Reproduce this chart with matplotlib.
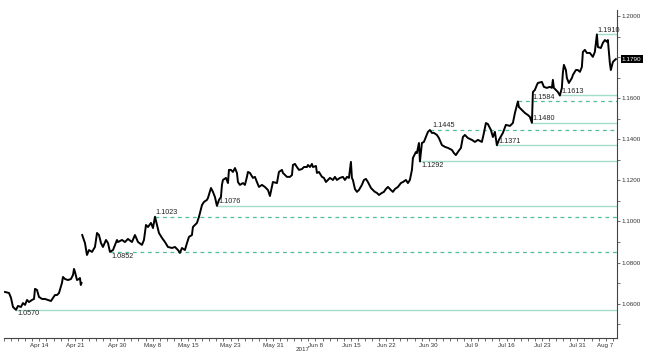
import numpy as np
import matplotlib
matplotlib.use("Agg")
import matplotlib.pyplot as plt
from matplotlib.ticker import MultipleLocator, FixedLocator, FixedFormatter
import matplotlib.transforms as mtransforms

plt.rcParams["font.family"] = ["Liberation Sans", "DejaVu Sans"]

# trading-day axis: day 0 = Fri 2017-04-07, weekends removed
ORIGIN = "2017-04-07"

# EUR/USD, before the French election weekend gap
days_a = [0.14, 0.71, 0.99, 1.27, 1.69, 1.98, 2.40, 2.68, 2.97, 3.25, 3.53, 3.95,
          4.24, 4.38, 4.66, 4.94, 5.37, 5.79, 6.21, 6.64, 6.92, 7.20, 7.49, 7.77,
          8.19, 8.33, 8.62, 9.04, 9.46, 9.75, 9.89, 10.03, 10.31, 10.59, 10.73,
          10.85, 10.95]
price_a = [1.0657, 1.0652, 1.0628, 1.0584, 1.0570, 1.0589, 1.0584, 1.0603, 1.0594,
           1.0618, 1.0608, 1.0618, 1.0623, 1.0672, 1.0667, 1.0633, 1.0623, 1.0623,
           1.0618, 1.0613, 1.0628, 1.0642, 1.0642, 1.0652, 1.0701, 1.0730, 1.0720,
           1.0715, 1.0720, 1.0740, 1.0769, 1.0754, 1.0715, 1.0720, 1.0725, 1.0691,
           1.0701]

# after the gap
days_b = [11.05, 11.44, 11.72, 12.01, 12.43, 12.85, 13.14, 13.42, 13.70, 13.98,
          14.41, 14.69, 14.97, 15.40, 15.68, 15.96, 16.10, 16.67, 17.09, 17.51,
          18.08, 18.50, 18.93, 19.49, 19.77, 20.06, 20.34, 20.76, 21.05, 21.33,
          21.61, 21.89, 22.32, 22.74, 23.16, 23.73, 24.15, 24.58, 24.86, 25.14,
          25.56, 25.85, 26.13, 26.55, 26.69, 27.26, 27.54, 27.97, 28.25, 28.67,
          28.81, 29.24, 29.52, 29.80, 30.08, 30.37, 30.65, 30.79, 30.93, 31.36,
          31.64, 31.78, 32.06, 32.34, 32.63, 32.91, 33.05, 33.33, 33.76, 34.04,
          34.32, 34.46, 34.75, 35.17, 35.45, 35.73, 36.02, 36.44, 36.86, 37.29,
          37.57, 37.85, 37.99, 38.56, 38.84, 39.27, 39.41, 39.97, 40.40, 40.68,
          40.82, 41.10, 41.38, 41.67, 42.09, 42.37, 42.80, 42.94, 43.22, 43.50,
          43.64, 44.07, 44.21, 44.49, 44.92, 45.20, 45.48, 45.76, 46.05, 46.47,
          46.75, 47.03, 47.46, 47.88, 48.16, 48.45, 48.73, 49.01, 49.15, 49.29,
          49.58, 49.86, 50.14, 50.56, 50.85, 51.13, 51.41, 51.84, 52.12, 52.40,
          52.68, 52.97, 53.39, 53.67, 53.95, 54.24, 54.66, 54.94, 55.23, 55.65,
          56.07, 56.36, 56.78, 57.06, 57.34, 57.63, 57.77, 58.19, 58.33, 58.62,
          58.76, 59.04, 59.32, 59.60, 59.89, 60.17, 60.45, 60.73, 61.16, 61.44,
          61.86, 62.29, 62.71, 63.28, 63.56, 63.84, 64.12, 64.55, 64.83, 65.11,
          65.54, 66.10, 66.53, 66.95, 67.51, 67.80, 68.08, 68.36, 68.79, 69.07,
          69.35, 69.63, 69.92, 70.48, 70.90, 71.47, 71.89, 72.18, 72.60, 72.74,
          73.16, 73.59, 74.01, 74.29, 74.58, 74.72, 75.00, 75.28, 75.42, 75.99,
          76.27, 76.69, 77.12, 77.40, 77.54, 77.68, 77.97, 78.25, 78.53, 78.81,
          78.95, 79.10, 79.38, 79.52, 79.80, 80.23, 80.37, 80.79, 81.07, 81.36,
          81.64, 81.78, 82.06, 82.34, 82.77, 83.19, 83.47, 83.76, 83.90, 84.32,
          84.60, 84.89, 85.17, 85.31, 85.59, 85.73, 86.02, 86.30, 86.44]
price_b = [1.0934, 1.0895, 1.0837, 1.0861, 1.0852, 1.0876, 1.0944, 1.0934, 1.0895, 1.0876,
           1.0910, 1.0895, 1.0852, 1.0861, 1.0886, 1.0910, 1.0900, 1.0910, 1.0900, 1.0915,
           1.0900, 1.0934, 1.0900, 1.0886, 1.0910, 1.0983, 1.0973, 1.0993, 1.0968, 1.1023,
           1.0983, 1.0944, 1.0920, 1.0900, 1.0876, 1.0871, 1.0876, 1.0861, 1.0847, 1.0871,
           1.0861, 1.0895, 1.0925, 1.0934, 1.0973, 1.0993, 1.1022, 1.1080, 1.1095, 1.1105,
           1.1114, 1.1163, 1.1144, 1.1119, 1.1076, 1.1105, 1.1119, 1.1178, 1.1202, 1.1212,
           1.1187, 1.1251, 1.1251, 1.1241, 1.1260, 1.1236, 1.1192, 1.1178, 1.1187, 1.1178,
           1.1217, 1.1241, 1.1236, 1.1212, 1.1217, 1.1192, 1.1168, 1.1178, 1.1168, 1.1153,
           1.1124, 1.1168, 1.1192, 1.1187, 1.1241, 1.1251, 1.1236, 1.1217, 1.1217, 1.1226,
           1.1275, 1.1280, 1.1265, 1.1251, 1.1255, 1.1265, 1.1265, 1.1275, 1.1265, 1.1280,
           1.1265, 1.1270, 1.1236, 1.1241, 1.1217, 1.1212, 1.1192, 1.1202, 1.1212, 1.1202,
           1.1217, 1.1202, 1.1212, 1.1217, 1.1202, 1.1217, 1.1212, 1.1290, 1.1212, 1.1202,
           1.1158, 1.1144, 1.1153, 1.1178, 1.1202, 1.1207, 1.1192, 1.1163, 1.1153, 1.1144,
           1.1139, 1.1129, 1.1139, 1.1144, 1.1158, 1.1168, 1.1153, 1.1144, 1.1158, 1.1168,
           1.1187, 1.1192, 1.1202, 1.1187, 1.1202, 1.1251, 1.1309, 1.1338, 1.1333, 1.1382,
           1.1292, 1.1382, 1.1387, 1.1411, 1.1436, 1.1445, 1.1431, 1.1431, 1.1421, 1.1406,
           1.1372, 1.1363, 1.1358, 1.1348, 1.1333, 1.1323, 1.1338, 1.1358, 1.1411, 1.1421,
           1.1406, 1.1397, 1.1387, 1.1397, 1.1387, 1.1431, 1.1479, 1.1474, 1.1445, 1.1411,
           1.1436, 1.1371, 1.1397, 1.1431, 1.1470, 1.1465, 1.1479, 1.1528, 1.1584, 1.1557,
           1.1543, 1.1528, 1.1518, 1.1509, 1.1480, 1.1630, 1.1640, 1.1664, 1.1674, 1.1679,
           1.1655, 1.1650, 1.1655, 1.1650, 1.1689, 1.1650, 1.1640, 1.1630, 1.1613, 1.1650,
           1.1723, 1.1762, 1.1737, 1.1698, 1.1674, 1.1698, 1.1713, 1.1737, 1.1737, 1.1728,
           1.1752, 1.1825, 1.1835, 1.1820, 1.1820, 1.1801, 1.1825, 1.1910, 1.1849, 1.1844,
           1.1869, 1.1883, 1.1874, 1.1883, 1.1771, 1.1737, 1.1776, 1.1786, 1.1790]

# support / resistance levels
level_value = [1.0570, 1.0852, 1.1023, 1.1076, 1.1292, 1.1445, 1.1371, 1.1480, 1.1584, 1.1613, 1.1910]
level_start = [1.69, 14.97, 21.33, 30.08, 58.76, 60.17, 69.63, 74.58, 72.60, 78.53, 83.76]
level_label_x = [1.85, 15.2, 21.33, 30.3, 58.9, 60.45, 69.9, 74.7, 74.7, 78.8, 83.76]
level_dashed = [False, True, True, False, False, True, False, False, True, False, False]
level_below = [True, True, False, False, True, False, False, False, False, False, False]

last_price = 1.1790

tick_dates = ["2017-04-14", "2017-04-21", "2017-04-30", "2017-05-08", "2017-05-15",
              "2017-05-23", "2017-05-31", "2017-06-08", "2017-06-15", "2017-06-22",
              "2017-06-30", "2017-07-09", "2017-07-16", "2017-07-23", "2017-07-31",
              "2017-08-07"]
tick_labels = ["Apr 14", "Apr 21", "Apr 30", "May 8", "May 15", "May 23", "May 31",
               "Jun 8", "Jun 15", "Jun 22", "Jun 30", "Jul 9", "Jul 16", "Jul 23",
               "Jul 31", "Aug 7"]
tick_pos = np.busday_count(ORIGIN, tick_dates).astype(float)

fig = plt.figure(figsize=(6.48, 3.59), dpi=100)
ax = fig.add_axes([4 / 648, 21 / 359, 613 / 648, 328 / 359])

solid_col = "#a3dcc9"
dash_col = "#4fbf9c"
for v, s, lx, dashed, below in zip(level_value, level_start, level_label_x,
                                    level_dashed, level_below):
    if dashed:
        ax.plot([s, 86.6], [v, v], color=dash_col, lw=0.9, dashes=(3, 3), zorder=1)
    else:
        ax.plot([s, 86.6], [v, v], color=solid_col, lw=1.0, zorder=1)
    ax.text(lx, v - 0.0003 if below else v + 0.0003, f"{v:.4f}",
            fontsize=5.2, color="#222222",
            va="top" if below else "bottom", ha="left", zorder=3)

ax.plot(days_a, price_a, color="black", lw=1.4, zorder=2)
ax.plot(days_b, price_b, color="black", lw=1.4, zorder=2)

ax.set_xlim(0, 86.6)
ax.set_ylim(1.0433, 1.2029)

for side in ["left", "top"]:
    ax.spines[side].set_visible(False)
for side in ["right", "bottom"]:
    ax.spines[side].set_color("#444444")
    ax.spines[side].set_linewidth(0.8)

ax.yaxis.tick_right()
ax.yaxis.set_major_locator(MultipleLocator(0.02))
ax.yaxis.set_minor_locator(MultipleLocator(0.01))
ax.yaxis.set_major_formatter(plt.FuncFormatter(lambda v, p: f"{v:.4f}"))
ax.tick_params(axis="y", which="both", direction="out", length=2, width=0.5,
               labelsize=4.5, pad=1.5, colors="#333333")

ax.xaxis.set_major_locator(FixedLocator(tick_pos))
ax.xaxis.set_major_formatter(FixedFormatter(tick_labels))
ax.xaxis.set_minor_locator(MultipleLocator(1))
ax.tick_params(axis="x", which="both", direction="out", length=2, width=0.5,
               labelsize=4.5, pad=1.5, colors="#333333")
ax.get_xticklabels()[-1].set_horizontalalignment("right")

trans = mtransforms.blended_transform_factory(ax.transAxes, ax.transData)
ax.text(1.008, last_price, f"{last_price:.4f}", transform=trans, fontsize=4.6,
        color="white", va="center", ha="left",
        bbox=dict(boxstyle="square,pad=0.2", fc="black", ec="none"))

ax.text(0.488, -0.034, "2017", transform=ax.transAxes, fontsize=4.5,
        color="#333333", ha="center", va="center")

fig.savefig("out.png", dpi=100)
